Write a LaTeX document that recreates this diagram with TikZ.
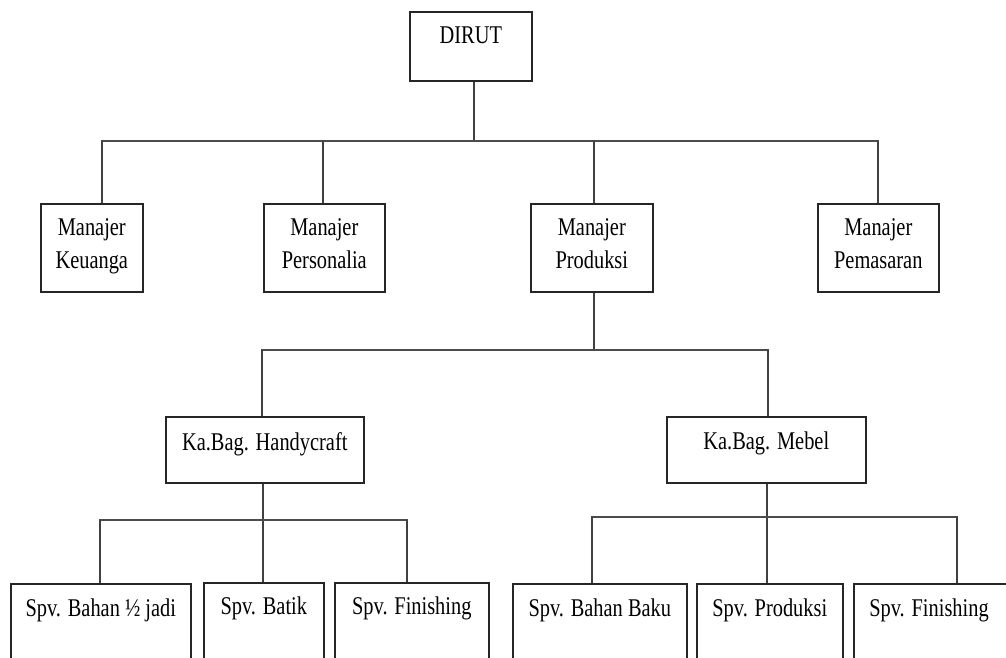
\documentclass[tikz,border=0pt]{standalone}
\usepackage{fontspec}
\setmainfont[FakeStretch=0.8]{Liberation Serif}
\usetikzlibrary{calc}
\begin{document}
\begin{tikzpicture}[x=1pt,y=-1pt,
 box/.style={draw=black!85, line width=1.6pt, rectangle, inner sep=0pt, anchor=north west},
 txt/.style={font=\fontsize{25.5}{33}\selectfont, align=center, anchor=north, inner sep=0pt},
 conn/.style={draw=black!75, line width=1.2pt},
 bar/.style={draw=black!70, line width=2pt, line cap=rect}]
\useasboundingbox (0,0) rectangle (1006,657);
\clip (0,0) rectangle (1006,657);
% boxes
\node[box, minimum width=122, minimum height=69] (dirut) at (409,11) {};
\node[box, minimum width=102, minimum height=88] (keu) at (40,203) {};
\node[box, minimum width=121, minimum height=88] (per) at (263,203) {};
\node[box, minimum width=122, minimum height=88] (pro) at (530,203) {};
\node[box, minimum width=121, minimum height=88] (pem) at (817,203) {};
\node[box, minimum width=198, minimum height=66] (hand) at (165,416) {};
\node[box, minimum width=199, minimum height=66] (mebel) at (666,416) {};
\node[box, minimum width=180, minimum height=120] (s1) at (10,583) {};
\node[box, minimum width=120, minimum height=120] (s2) at (203,582) {};
\node[box, minimum width=154, minimum height=120] (s3) at (334,582) {};
\node[box, minimum width=174, minimum height=120] (s4) at (512,583) {};
\node[box, minimum width=146, minimum height=120] (s5) at (696,583) {};
\node[box, minimum width=200, minimum height=120] (s6) at (853,583) {};
% texts
\node[txt] (tdirut) at ($(dirut.north)+(0,16)$) {DIRUT};
\node[txt] (tkeu) at ($(keu.north)+(0,15)$) {Manajer\\Keuanga};
\node[txt] (tper) at ($(per.north)+(0,15)$) {Manajer\\Personalia};
\node[txt] (tpro) at ($(pro.north)+(0,15)$) {Manajer\\Produksi};
\node[txt] (tpem) at ($(pem.north)+(0,15)$) {Manajer\\Pemasaran};
\node[txt] (thand) at ($(hand.north)+(0,16)$) {Ka.Bag. Handycraft};
\node[txt] (tmebel) at ($(mebel.north)+(0,16)$) {Ka.Bag. Mebel};
\node[txt] (ts1) at ($(s1.north)+(0,16)$) {Spv. Bahan ½ jadi};
\node[txt] (ts2) at ($(s2.north)+(0,15)$) {Spv. Batik};
\node[txt] (ts3) at ($(s3.north)+(0,15)$) {Spv. Finishing};
\node[txt] (ts4) at ($(s4.north)+(0,16)$) {Spv. Bahan Baku};
\node[txt] (ts5) at ($(s5.north)+(0,16)$) {Spv. Produksi};
\node[txt] (ts6) at ($(s6.north west)+(76,16)$) {Spv. Finishing};
% junction coordinates
\coordinate (j0) at (474,141);
\coordinate (a1) at (102,141);
\coordinate (a2) at (323,141);
\coordinate (a3) at (594,141);
\coordinate (a4) at (878,141);
\coordinate (j1) at (594,350);
\coordinate (b1) at (262,350);
\coordinate (b2) at (768,350);
\coordinate (h0) at (263,520);
\coordinate (c1) at (100,520);
\coordinate (c3) at (407,520);
\coordinate (m0) at (767,517);
\coordinate (d1) at (592,517);
\coordinate (d3) at (957,517);
% connectors
\draw[conn] (j0 |- dirut.south) -- (j0);
\draw[bar] (a1) -- (a4);
\draw[conn] (a1) -- (a1 |- keu.north);
\draw[conn] (a2) -- (a2 |- per.north);
\draw[conn] (a3) -- (a3 |- pro.north);
\draw[conn] (a4) -- (a4 |- pem.north);
\draw[conn] (j1 |- pro.south) -- (j1);
\draw[bar] (b1) -- (b2);
\draw[conn] (b1) -- (b1 |- hand.north);
\draw[conn] (b2) -- (b2 |- mebel.north);
\draw[conn] (h0 |- hand.south) -- (h0 |- s2.north);
\draw[bar] (c1) -- (c3);
\draw[conn] (c1) -- (c1 |- s1.north);
\draw[conn] (c3) -- (c3 |- s3.north);
\draw[conn] (m0 |- mebel.south) -- (m0 |- s5.north);
\draw[bar] (d1) -- (d3);
\draw[conn] (d1) -- (d1 |- s4.north);
\draw[conn] (d3) -- (d3 |- s6.north);
\end{tikzpicture}
\end{document}
